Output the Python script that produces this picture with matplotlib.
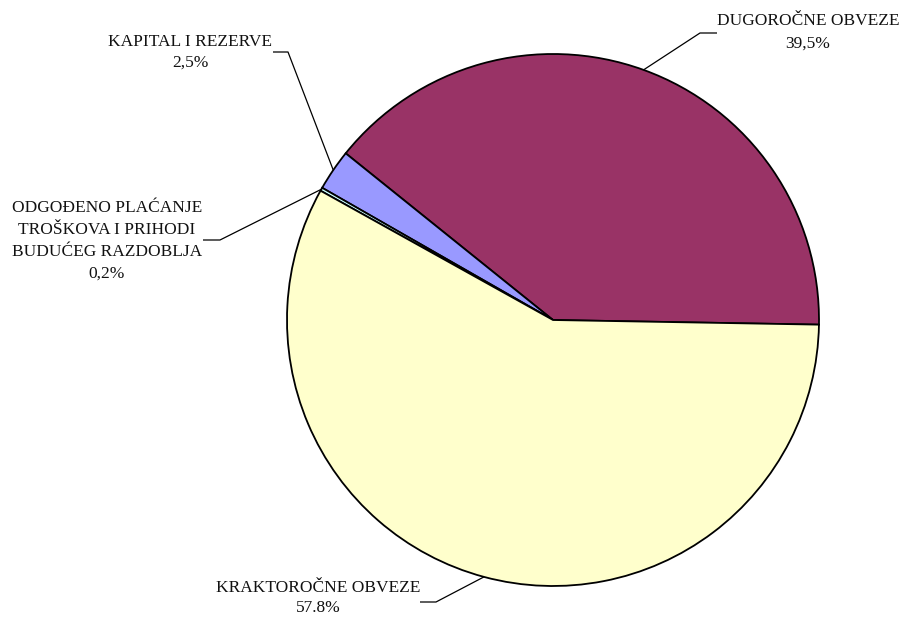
import matplotlib
matplotlib.use("Agg")
import matplotlib.pyplot as plt
import numpy as np

categories = ["DUGOROČNE OBVEZE", "KAPITAL I REZERVE",
              "ODGOĐENO PLAĆANJE\nTROŠKOVA I PRIHODI\nBUDUĆEG RAZDOBLJA",
              "KRAKTOROČNE OBVEZE"]
values = [39.5, 2.5, 0.2, 57.8]
value_labels = ["39,5%", "2,5%", "0,2%", "57.8%"]
colors = ["#993366", "#9999FF", "#CCFFFF", "#FFFFCC"]

W, H = 902, 619
fig = plt.figure(figsize=(W / 100, H / 100), dpi=100)
ax = fig.add_axes([0, 0, 1, 1])
cx, cy, R = 553, H - 320, 266
start = -1.0
wedges, _ = ax.pie(values, colors=colors, startangle=start, counterclock=True,
                   center=(cx, cy), radius=R, frame=True,
                   wedgeprops=dict(edgecolor="black", linewidth=1.3))
ax.set_xlim(0, W)
ax.set_ylim(0, H)
ax.set_aspect("equal")
ax.axis("off")

# label layout: (elbow x, elbow y, end x, text x, first line y, line step)
layout = [
    (700, 33, 717, 808, 21, 23),
    (288, 52, 273, 190, 42, 21),
    (220, 240, 203, 107, 208, 22),
    (436, 602, 420, 318, 588, 20),
]
font = dict(family="Liberation Serif", fontsize=12.5, color="#111111")
for w, cat, vl, (ex, ey, hx, tx, ty, step) in zip(wedges, categories, value_labels, layout):
    ang = np.deg2rad((w.theta1 + w.theta2) / 2)
    px, py = cx + R * np.cos(ang), cy + R * np.sin(ang)
    ax.plot([px, ex, hx], [py, H - ey, H - ey], color="black", lw=0.9, solid_capstyle="butt")
    lines = (cat + "\n" + vl).split("\n")
    for i, ln in enumerate(lines):
        ax.text(tx, H - (ty + i * step), ln, ha="center", va="center", **font)

fig.savefig("out.png", dpi=100, facecolor="white")
